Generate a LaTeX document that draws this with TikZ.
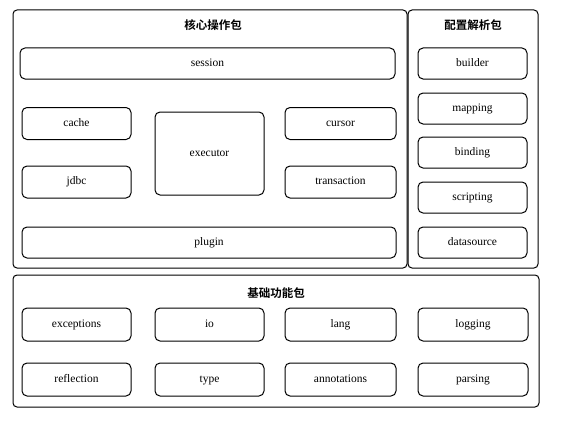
\documentclass[tikz,border=0pt]{standalone}
\usepackage{fontspec}
\setmainfont{Liberation Serif}
\newfontfamily\cjk{Noto Sans CJK SC}[BoldFont={* Bold}]
\usepackage{tikz}

\begin{document}
\begin{tikzpicture}[x=1pt,y=-1pt,
    pkg/.style={draw,line width=1pt,rounded corners=4pt,inner sep=0pt},
    mod/.style={draw,line width=1pt,rounded corners=5pt,inner sep=0pt,
      minimum width=109pt,minimum height=32pt,text height=8pt,text depth=2.5pt,
      font=\fontsize{11.5}{13}\selectfont},
    title/.style={font=\cjk\bfseries\fontsize{11.5}{13}\selectfont}]
  \useasboundingbox (0,0) rectangle (567,420);
  % core package
  \node[pkg,minimum width=394pt,minimum height=258pt] (core) at (210,139) {};
  \node[title] (coretitle) at (213,25) {核心操作包};
  \node[mod,minimum width=375pt,minimum height=31pt] (session) at (207.5,63.5) {session};
  \node[mod] (cache) at (76.5,123.5) {cache};
  \node[mod,minimum height=83pt] (executor) at (209.5,153.5) {executor};
  \node[mod,minimum width=111pt] (cursor) at (340.5,123.5) {cursor};
  \node[mod] (jdbc) at (76.5,182) {jdbc};
  \node[mod,minimum width=111pt] (transaction) at (340.5,182) {transaction};
  \node[mod,minimum width=374pt,minimum height=31pt] (plugin) at (209,242.5) {plugin};
  % config package
  \node[pkg,minimum width=130pt,minimum height=258pt] (config) at (473,139) {};
  \node[title] (configtitle) at (473,25) {配置解析包};
  \node[mod,minimum height=31pt] (builder) at (472.5,63.5) {builder};
  \node[mod,minimum height=31pt] (mapping) at (472.5,108.5) {mapping};
  \node[mod,minimum height=31pt] (binding) at (472.5,152.5) {binding};
  \node[mod,minimum height=31pt] (scripting) at (472.5,197.5) {scripting};
  \node[mod,minimum height=31pt] (datasource) at (472.5,242.5) {datasource};
  % base package
  \node[pkg,minimum width=526pt,minimum height=132pt] (base) at (276,341) {};
  \node[title] (basetitle) at (276,293) {基础功能包};
  \node[mod,minimum height=33pt] (exceptions) at (76.5,324.5) {exceptions};
  \node[mod,minimum height=33pt] (io) at (209.5,324.5) {io};
  \node[mod,minimum width=111pt,minimum height=33pt] (lang) at (340.5,324.5) {lang};
  \node[mod,minimum width=110pt,minimum height=33pt] (logging) at (473,324.5) {logging};
  \node[mod,minimum height=33pt] (reflection) at (76.5,379.5) {reflection};
  \node[mod,minimum height=33pt] (type) at (209.5,379.5) {type};
  \node[mod,minimum width=111pt,minimum height=33pt] (annotations) at (340.5,379.5) {annotations};
  \node[mod,minimum width=110pt,minimum height=33pt] (parsing) at (473,379.5) {parsing};
\end{tikzpicture}
\end{document}
